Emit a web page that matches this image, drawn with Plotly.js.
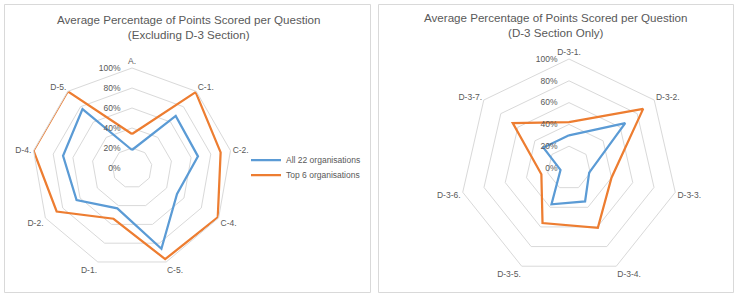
<!DOCTYPE html>
<html>
<head>
<meta charset="utf-8">
<script src="https://cdn.plot.ly/plotly-3.0.1.min.js"></script>
<style>
  html, body { margin: 0; padding: 0; background: #ffffff; }
  #chart { width: 737px; height: 296px; }
</style>
</head>
<body>
<div id="chart"></div>
<script>
// Questions outside the D-3 section
const mainQuestions = ['A.', 'C-1.', 'C-2.', 'C-4.', 'C-5.', 'D-1.', 'D-2.', 'D-4.', 'D-5.'];
const mainAll22 = [0.18, 0.68, 0.67, 0.52, 0.86, 0.43, 0.64, 0.70, 0.77];
const mainTop6  = [0.34, 0.99, 0.90, 0.99, 0.97, 0.54, 0.87, 1.00, 1.00];

// D-3 section questions
const d3Questions = ['D-3-1.', 'D-3-2.', 'D-3-3.', 'D-3-4.', 'D-3-5.', 'D-3-6.', 'D-3-7.'];
const d3All22 = [0.30, 0.66, 0.19, 0.34, 0.37, 0.08, 0.30];
const d3Top6  = [0.42, 0.87, 0.40, 0.61, 0.56, 0.26, 0.66];

const seriesNames = ['All 22 organisations', 'Top 6 organisations'];

const W = 737, H = 296;
const BLUE = '#5B9BD5', ORANGE = '#ED7D31', GRID = '#d9d9d9', TEXT = '#595959';
const FONT = 'Liberation Sans';

const px = x => x / W;
const py = y => 1 - y / H;

// close each polygon by repeating its first vertex
const closeLoop = arr => arr.concat([arr[0]]);

function radarTrace(cats, vals, name, color, subplot, legend) {
  return {
    type: 'scatterpolar',
    mode: 'lines',
    r: closeLoop(vals),
    theta: closeLoop(cats),
    name: name,
    subplot: subplot,
    showlegend: !!legend,
    legend: legend || 'legend',
    line: { color: color, width: 2.25 },
    hoverinfo: 'skip'
  };
}

const data = [
  radarTrace(mainQuestions, mainAll22, seriesNames[0], BLUE, 'polar', 'legend'),
  radarTrace(mainQuestions, mainTop6, seriesNames[1], ORANGE, 'polar', 'legend2'),
  radarTrace(d3Questions, d3All22, seriesNames[0], BLUE, 'polar2', null),
  radarTrace(d3Questions, d3Top6, seriesNames[1], ORANGE, 'polar2', null)
];

function polarLayout(cx, cy, rad) {
  return {
    domain: { x: [px(cx - rad), px(cx + rad)], y: [py(cy + rad), py(cy - rad)] },
    gridshape: 'linear',
    bgcolor: 'rgba(0,0,0,0)',
    radialaxis: {
      range: [0, 1],
      tick0: 0,
      dtick: 0.2,
      tickformat: '.0%',
      angle: 90,
      side: 'counterclockwise',
      tickangle: 90,
      showline: false,
      ticks: 'outside',
      ticklen: 8,
      tickcolor: 'rgba(0,0,0,0)',
      gridcolor: GRID,
      gridwidth: 1,
      tickfont: { family: FONT, size: 8.5, color: TEXT }
    },
    angularaxis: {
      type: 'category',
      direction: 'clockwise',
      rotation: 90,
      showgrid: false,
      showline: true,
      linecolor: GRID,
      linewidth: 1,
      ticks: '',
      tickfont: { family: FONT, size: 8.5, color: TEXT }
    }
  };
}

function legendAt(y) {
  return {
    x: px(246), y: py(y), xanchor: 'left', yanchor: 'middle',
    bgcolor: 'rgba(0,0,0,0)',
    font: { family: FONT, size: 8.5, color: TEXT }
  };
}

const layout = {
  width: W,
  height: H,
  margin: { l: 0, r: 0, t: 0, b: 0 },
  paper_bgcolor: '#ffffff',
  font: { family: FONT, color: TEXT },
  polar: polarLayout(132, 168, 100),
  polar2: polarLayout(569, 168, 109),
  showlegend: true,
  legend: legendAt(160),
  legend2: legendAt(175),
  annotations: [
    {
      xref: 'paper', yref: 'paper', x: px(188), y: py(27), xanchor: 'center', yanchor: 'middle',
      text: 'Average Percentage of Points Scored per Question<br>(Excluding D-3 Section)',
      showarrow: false, font: { family: FONT, size: 11.6, color: TEXT }
    },
    {
      xref: 'paper', yref: 'paper', x: px(555), y: py(25), xanchor: 'center', yanchor: 'middle',
      text: 'Average Percentage of Points Scored per Question<br>(D-3 Section Only)',
      showarrow: false, font: { family: FONT, size: 11.6, color: TEXT }
    }
  ],
  shapes: [
    { type: 'rect', xref: 'paper', yref: 'paper', x0: px(4.5), x1: px(370.5), y0: py(292.5), y1: py(4.5),
      line: { color: GRID, width: 1 } },
    { type: 'rect', xref: 'paper', yref: 'paper', x0: px(378.5), x1: px(733.5), y0: py(292.5), y1: py(4.5),
      line: { color: GRID, width: 1 } }
  ]
};

Plotly.newPlot('chart', data, layout, { staticPlot: true, displayModeBar: false });
</script>
</body>
</html>
